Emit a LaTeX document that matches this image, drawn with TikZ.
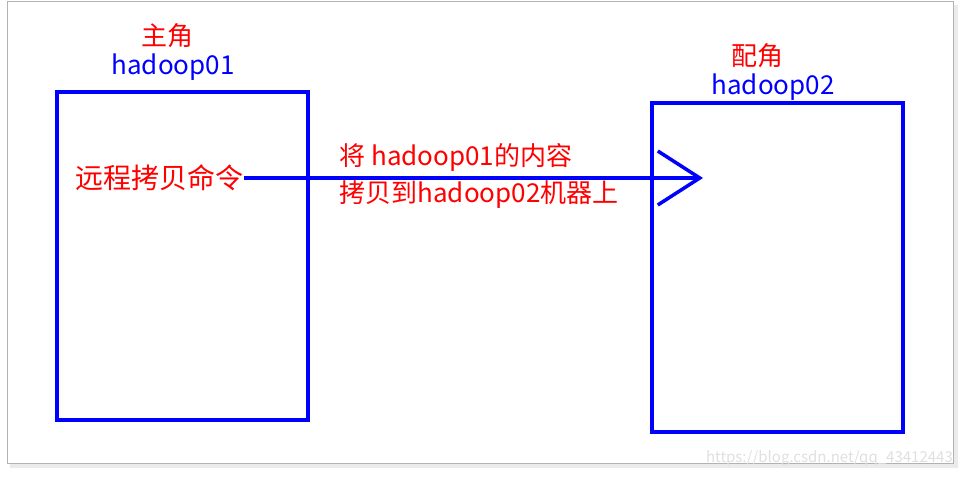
\documentclass[tikz,border=0pt]{standalone}
\usepackage{fontspec}
\setmainfont{Noto Sans CJK SC}
\usetikzlibrary{arrows.meta}

\begin{document}
\begin{tikzpicture}[x=1pt,y=-1pt,
    machine/.style={draw=blue,line width=3.5pt},
    role/.style={text=red,font=\fontsize{26}{28}\selectfont},
    host/.style={text=blue,font=\fontsize{26}{28}\selectfont},
    note/.style={text=red,font=\fontsize{26}{28}\selectfont,anchor=west}]
  \useasboundingbox (0,0) rectangle (965,477);
  % frame with shadow
  \fill[black!8] (10,5) rectangle (958,468);
  \draw[black!30,fill=white] (7,1) rectangle (953,463);

  % the two machines
  \draw[machine] (57,92) rectangle (308,420);
  \draw[machine] (652,103) rectangle (903,432);
  \node[role] (role1) at (167,36) {主角};
  \node[host] (host1) at (173,67) {hadoop01};
  \node[role] (role2) at (757,56) {配角};
  \node[host] (host2) at (773,87) {hadoop02};

  % copy command
  \node[text=red,font=\fontsize{28}{30}\selectfont,inner sep=1pt] (cmd) at (159,178) {远程拷贝命令};
  \coordinate (target) at (703,178);
  \draw[blue,line width=3.5pt,-{Straight Barb[length=42pt,width=54pt,line width=3.5pt]}] (cmd.east) -- (target);
  \node[note] (line1) at (336,157) {将 hadoop01的内容};
  \node[note] (line2) at (336,195) {拷贝到hadoop02机器上};

  \node[text=black!12,font=\fontsize{15}{17}\selectfont,anchor=east,inner sep=0pt] (mark) at (953,458) {https://blog.csdn.net/qq\_43412443};
\end{tikzpicture}
\end{document}
